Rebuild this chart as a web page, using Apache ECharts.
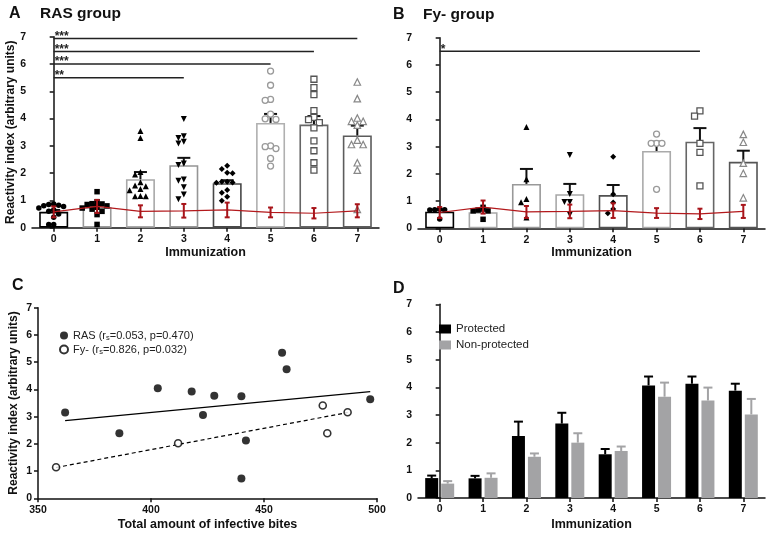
<!DOCTYPE html>
<html><head><meta charset="utf-8">
<script src="https://cdn.jsdelivr.net/npm/echarts@6/dist/echarts.min.js"></script>
<style>html,body{margin:0;padding:0;background:#fff}#c{width:773px;height:534px}</style>
</head><body><div id="c"></div>
<script>
// ---------- DATA ----------
const immunizations = ['0','1','2','3','4','5','6','7'];
// Panel A: RAS group (mean, SEM, individual values per immunization)
const rasMean = [0.58, 0.75, 1.78, 2.29, 1.63, 3.84, 3.78, 3.38];
const rasSem  = [0.07, 0.09, 0.26, 0.27, 0.11, 0.33, 0.31, 0.36];
const ras0 = [0.87, 0.85, 0.82, 0.80, 0.78, 0.72, 0.65, 0.60, 0.50, 0.38, 0.12, 0.12];
const ras1 = [1.32, 0.95, 0.88, 0.87, 0.85, 0.80, 0.75, 0.72, 0.68, 0.60, 0.48, 0.12];
const ras2 = [3.54, 3.29, 2.04, 1.95, 1.67, 1.55, 1.52, 1.42, 1.37, 1.16, 1.15, 1.15];
const ras3 = [3.98, 3.35, 3.29, 3.15, 3.09, 2.35, 2.30, 1.77, 1.72, 1.48, 1.22, 1.04];
const ras4 = [2.27, 2.15, 2.01, 2.00, 1.68, 1.68, 1.66, 1.65, 1.38, 1.28, 1.13, 0.99];
const ras5 = [5.74, 5.22, 4.70, 4.67, 4.16, 3.99, 3.97, 3.00, 2.97, 2.90, 2.54, 2.26];
const ras6 = [5.44, 5.13, 4.88, 4.29, 4.04, 3.96, 3.85, 3.66, 3.18, 2.82, 2.38, 2.11];
const ras7 = [5.34, 4.73, 4.02, 3.90, 3.90, 3.76, 3.21, 3.05, 3.05, 2.38, 2.11, 0.67];
// Panel B: Fy- group
const fyMean = [0.61, 0.59, 1.63, 1.25, 1.22, 2.84, 3.18, 2.44];
const fySem  = [0.05, 0.05, 0.55, 0.38, 0.37, 0.34, 0.50, 0.41];
const fy0 = [0.72, 0.68, 0.68, 0.67, 0.34];
const fy1 = [0.77, 0.67, 0.64, 0.64, 0.33];
const fy2 = [3.72, 1.80, 1.08, 0.96, 0.40];
const fy3 = [2.69, 1.26, 0.97, 0.97, 0.51];
const fy4 = [2.63, 1.25, 0.95, 0.71, 0.55];
const fy5 = [3.46, 3.12, 3.12, 3.12, 1.43];
const fy6 = [4.31, 4.12, 3.12, 2.79, 1.56];
const fy7 = [3.45, 3.16, 2.39, 2.02, 1.12];
// Control (red line) mean and error
const ctrlMean = [0.58, 0.78, 0.60, 0.62, 0.65, 0.56, 0.53, 0.62];
const ctrlErr  = [0.20, 0.24, 0.22, 0.25, 0.27, 0.18, 0.19, 0.24];
// Significance bars
const sigATo = [7, 6, 5, 3];
const sigAY = [6.93, 6.46, 6.00, 5.50];
const sigALabel = ['***', '***', '***', '**'];
const sigBTo = [6];
const sigBY = [6.50];
const sigBLabel = ['*'];
// Panel C
const rasBites = [362, 386, 403, 418, 423, 428, 440, 440, 442, 458, 460, 497];
const rasRI    = [3.15, 2.39, 4.04, 3.92, 3.06, 3.77, 3.75, 0.73, 2.12, 5.35, 4.74, 3.64];
const fyBites  = [358, 412, 476, 478, 487];
const fyRI     = [1.14, 2.02, 3.41, 2.39, 3.16];
const rasFit = [[362, 2.85], [497, 3.92]];
const fyFit  = [[358, 1.13], [487, 3.15]];
// Panel D
const protMean = [0.72, 0.71, 2.24, 2.69, 1.58, 4.07, 4.13, 3.88];
const protSem  = [0.09, 0.09, 0.52, 0.39, 0.19, 0.32, 0.26, 0.25];
const nonMean  = [0.52, 0.73, 1.49, 2.00, 1.70, 3.66, 3.52, 3.02];
const nonSem   = [0.09, 0.16, 0.12, 0.34, 0.16, 0.51, 0.47, 0.56];

// ---------- STYLE / LAYOUT ----------
const FONT = 'Liberation Sans, Arial, sans-serif';
const INK = '#111';
const rasSets = [ras0, ras1, ras2, ras3, ras4, ras5, ras6, ras7];
const fySets = [fy0, fy1, fy2, fy3, fy4, fy5, fy6, fy7];
const barBorderA = ['#000', '#9a9a9a', '#a8a8a8', '#959595', '#484848', '#b0b0b0', '#666', '#5c5c5c'];
const barBorderB = ['#000', '#a8a8a8', '#999', '#a8a8a8', '#505050', '#aaa', '#666', '#555'];
const markers = [
  {symbol:'circle', size:5.5, rot:0, fill:'#000', stroke:'#000', bw:0},
  {symbol:'rect', size:5.5, rot:0, fill:'#000', stroke:'#000', bw:0},
  {symbol:'triangle', size:6, rot:0, fill:'#000', stroke:'#000', bw:0},
  {symbol:'triangle', size:6, rot:180, fill:'#000', stroke:'#000', bw:0},
  {symbol:'diamond', size:6, rot:0, fill:'#000', stroke:'#000', bw:0},
  {symbol:'circle', size:6, rot:0, fill:'#fff', stroke:'#9a9a9a', bw:1.3},
  {symbol:'rect', size:6, rot:0, fill:'#fff', stroke:'#555', bw:1.3},
  {symbol:'triangle', size:6.5, rot:0, fill:'#fff', stroke:'#888', bw:1.2}
];

const gA = {left:32, top:36.7, width:347, height:191};
const gB = {left:418, top:37.7, width:347, height:190.6};
const gC = {left:38, top:307.7, width:339, height:190.6};
const gD = {left:418, top:304.3, width:347, height:193.7};

// compact beeswarm layout (pixel offsets): dots at similar heights are spread sideways
function swarm(vals, pxPerUnit, d, maxK) {
  const placed = [];
  return vals.map(v => {
    const y = v * pxPerUnit;
    const ks = [0];
    for (let k = 1; k <= maxK; k++) ks.push(-k, k);
    let best = 0, bestGap = -1;
    for (const k of ks) {
      const x = k * d;
      const gap = placed.length ? Math.min(...placed.map(p => Math.hypot(p.x - x, p.y - y))) : 1e9;
      if (gap >= d - 0.01) { placed.push({x, y}); return x; }
      if (gap > bestGap) { bestGap = gap; best = x; }
    }
    placed.push({x: best, y});
    return best;
  });
}

function yAxisCfg(gi) {
  return {
    type:'value', gridIndex:gi, min:0, max:7, interval:1,
    axisLine:{show:true, lineStyle:{color:INK, width:1.5}},
    axisTick:{show:true, length:4, lineStyle:{color:INK, width:1.5}},
    splitLine:{show:false},
    axisLabel:{color:INK, fontWeight:'bold', fontSize:10.5, margin:6, fontFamily:FONT}
  };
}
function yName(ax, gap) {
  ax.name = 'Reactivity index (arbitrary units)';
  ax.nameLocation = 'middle';
  ax.nameGap = gap;
  ax.nameTextStyle = {color:INK, fontWeight:'bold', fontSize:12, fontFamily:FONT};
  return ax;
}
function xCatCfg(gi) {
  return {
    type:'category', gridIndex:gi, data:immunizations,
    axisLine:{show:true, lineStyle:{color:INK, width:1.5}},
    axisTick:{show:true, alignWithLabel:true, length:4, lineStyle:{color:INK, width:1.5}},
    axisLabel:{color:INK, fontWeight:'bold', fontSize:10.5, margin:6, fontFamily:FONT},
    name:'Immunization', nameLocation:'middle', nameGap:17.5,
    nameTextStyle:{color:INK, fontWeight:'bold', fontSize:12.5, fontFamily:FONT}
  };
}
function xHidden(gi) { return {type:'value', gridIndex:gi, min:-0.5, max:7.5, show:false}; }

function errUp(offsetPx, capW, color, lw) {
  return function (params, api) {
    const x = api.value(0), m = api.value(1), e = api.value(2);
    const p0 = api.coord([x, m]), p1 = api.coord([x, m + e]);
    const cx = p0[0] + offsetPx;
    const st = {stroke:color, lineWidth:lw};
    return {type:'group', children:[
      {type:'line', shape:{x1:cx, y1:p0[1], x2:cx, y2:p1[1]}, style:st},
      {type:'line', shape:{x1:cx - capW/2, y1:p1[1], x2:cx + capW/2, y2:p1[1]}, style:st}
    ]};
  };
}
function errBoth(capW, color, lw) {
  return function (params, api) {
    const x = api.value(0), m = api.value(1), e = api.value(2);
    const pl = api.coord([x, m - e]), ph = api.coord([x, m + e]);
    const cx = pl[0];
    const st = {stroke:color, lineWidth:lw};
    return {type:'group', children:[
      {type:'line', shape:{x1:cx, y1:pl[1], x2:cx, y2:ph[1]}, style:st},
      {type:'line', shape:{x1:cx - capW/2, y1:ph[1], x2:cx + capW/2, y2:ph[1]}, style:st},
      {type:'line', shape:{x1:cx - capW/2, y1:pl[1], x2:cx + capW/2, y2:pl[1]}, style:st}
    ]};
  };
}
function sigRender(labels) {
  return function (params, api) {
    const to = api.value(0), y = api.value(1), idx = api.value(2);
    const p0 = api.coord([0, y]), p1 = api.coord([to, y]);
    return {type:'group', children:[
      {type:'line', shape:{x1:p0[0], y1:p0[1], x2:p1[0], y2:p1[1]}, style:{stroke:'#222', lineWidth:1.5}},
      {type:'text', style:{text:labels[idx], x:p0[0] + 1, y:p0[1] + 4, fill:'#222',
        font:'bold 12px ' + FONT, textAlign:'left', align:'left', textVerticalAlign:'bottom', verticalAlign:'bottom'}}
    ]};
  };
}

const series = [];
function groupPanel(means, sems, sets, borders, catAx, valAx, yAx, gridH, sigTo, sigY, sigLab) {
  const catPx = 347 / 8;
  const pxPerUnit = gridH / 7;
  series.push({type:'bar', xAxisIndex:catAx, yAxisIndex:yAx, barWidth:29, z:1, silent:true,
    data: means.map((v, i) => ({value:v, itemStyle:{color:'#fff', borderColor:borders[i], borderWidth:1.6}}))});
  series.push({type:'custom', xAxisIndex:valAx, yAxisIndex:yAx, z:2, silent:true,
    renderItem: errUp(0, 13, '#111', 2), data: means.map((m, i) => [i, m, sems[i]])});
  sets.forEach((vals, i) => {
    const mk = markers[i];
    const offs = swarm(vals, pxPerUnit, mk.size * 0.9, 3);
    series.push({type:'scatter', xAxisIndex:valAx, yAxisIndex:yAx, z:3, silent:true,
      symbol:mk.symbol, symbolSize:mk.size, symbolRotate:mk.rot,
      itemStyle:{color:mk.fill, borderColor:mk.stroke, borderWidth:mk.bw, opacity:1},
      data: vals.map((v, j) => [i + offs[j] / catPx, v])});
  });
  series.push({type:'line', xAxisIndex:valAx, yAxisIndex:yAx, z:4, silent:true, symbol:'none',
    lineStyle:{color:'#b3191c', width:1.2}, data: ctrlMean.map((m, i) => [i, m])});
  series.push({type:'custom', xAxisIndex:valAx, yAxisIndex:yAx, z:5, silent:true,
    renderItem: errBoth(5, '#a8141a', 2), data: ctrlMean.map((m, i) => [i, m, ctrlErr[i]])});
  series.push({type:'custom', xAxisIndex:valAx, yAxisIndex:yAx, z:5, silent:true,
    renderItem: sigRender(sigLab), data: sigTo.map((t, i) => [t, sigY[i], i])});
}
groupPanel(rasMean, rasSem, rasSets, barBorderA, 0, 1, 0, gA.height, sigATo, sigAY, sigALabel);
groupPanel(fyMean, fySem, fySets, barBorderB, 2, 3, 1, gB.height, sigBTo, sigBY, sigBLabel);

// Panel C
series.push({type:'line', name:'RAS fit', xAxisIndex:4, yAxisIndex:2, symbol:'none', silent:true,
  lineStyle:{color:'#000', width:1.2}, data: rasFit});
series.push({type:'line', name:'Fy- fit', xAxisIndex:4, yAxisIndex:2, symbol:'none', silent:true,
  lineStyle:{color:'#000', width:1.2, type:[4, 3]}, data: fyFit});
series.push({type:'scatter', name:'RAS', xAxisIndex:4, yAxisIndex:2, symbol:'circle', symbolSize:8, z:3,
  itemStyle:{color:'#000'}, data: rasBites.map((b, i) => [b, rasRI[i]])});
series.push({type:'scatter', name:'Fy-', xAxisIndex:4, yAxisIndex:2, symbol:'circle', symbolSize:7, z:3,
  itemStyle:{color:'#fff', borderColor:'#000', borderWidth:1.6}, data: fyBites.map((b, i) => [b, fyRI[i]])});

// Panel D
series.push({type:'bar', name:'Protected', xAxisIndex:5, yAxisIndex:3, barWidth:13, barGap:'23%',
  itemStyle:{color:'#000'}, data: protMean});
series.push({type:'bar', name:'Non-protected', xAxisIndex:5, yAxisIndex:3, barWidth:13, barGap:'23%',
  itemStyle:{color:'#a3a3a5'}, data: nonMean});
series.push({type:'custom', xAxisIndex:6, yAxisIndex:3, z:3, silent:true,
  renderItem: errUp(-8, 9, '#000', 2), data: protMean.map((m, i) => [i, m, protSem[i]])});
series.push({type:'custom', xAxisIndex:6, yAxisIndex:3, z:3, silent:true,
  renderItem: errUp(8, 9, '#a3a3a5', 2), data: nonMean.map((m, i) => [i, m, nonSem[i]])});

const xC = {
  type:'value', gridIndex:2, min:350, max:500, interval:50,
  axisLine:{show:true, lineStyle:{color:INK, width:1.5}},
  axisTick:{show:true, length:4, lineStyle:{color:INK, width:1.5}},
  splitLine:{show:false},
  axisLabel:{color:INK, fontWeight:'bold', fontSize:10.5, margin:6, fontFamily:FONT},
  name:'Total amount of infective bites', nameLocation:'middle', nameGap:20,
  nameTextStyle:{color:INK, fontWeight:'bold', fontSize:12.5, fontFamily:FONT}
};
const xD = xCatCfg(3); xD.nameGap = 20;

function label(txt, left, top, size) {
  return {type:'text', left, top, style:{text:txt, font:'bold ' + size + 'px ' + FONT, fill:'#111'}};
}

const option = {
  animation:false,
  backgroundColor:'#fff',
  textStyle:{fontFamily:FONT},
  grid:[gA, gB, gC, gD],
  xAxis:[xCatCfg(0), xHidden(0), xCatCfg(1), xHidden(1), xC, xD, xHidden(3)],
  yAxis:[yName(yAxisCfg(0), 14), yAxisCfg(1), yName(yAxisCfg(2), 18), yAxisCfg(3)],
  legend:[
    {data:['RAS', 'Fy-'], orient:'vertical', left:54, top:325, itemWidth:8, itemHeight:8, itemGap:2,
     icon:'circle', selectedMode:false,
     formatter: n => n === 'RAS' ? '{n|RAS (r}{s|s}{n|=0.053, p=0.470)}' : '{n|Fy- (r}{s|s}{n|=0.826, p=0.032)}',
     textStyle:{fontSize:11, color:'#222', rich:{n:{fontSize:11, color:'#222', fontFamily:FONT, lineHeight:13},
       s:{fontSize:7.5, color:'#222', fontFamily:FONT, verticalAlign:'bottom', lineHeight:13, padding:[3,0,0,0]}}}},
    {data:['Protected', 'Non-protected'], orient:'vertical', left:434, top:318, itemWidth:12, itemHeight:9, itemGap:4,
     icon:'rect', selectedMode:false, textStyle:{fontSize:11.5, color:'#222', fontFamily:FONT}}
  ],
  graphic:[
    label('A', 9, 6, 16), label('RAS group', 40, 6, 15.5),
    label('B', 393, 7, 16), label('Fy- group', 423, 7, 15.5),
    label('C', 12, 278, 16), label('D', 393, 281, 16)
  ],
  series
};
const chart = echarts.init(document.getElementById('c'), null, {renderer:'canvas'});
chart.setOption(option);
</script>
</body></html>
